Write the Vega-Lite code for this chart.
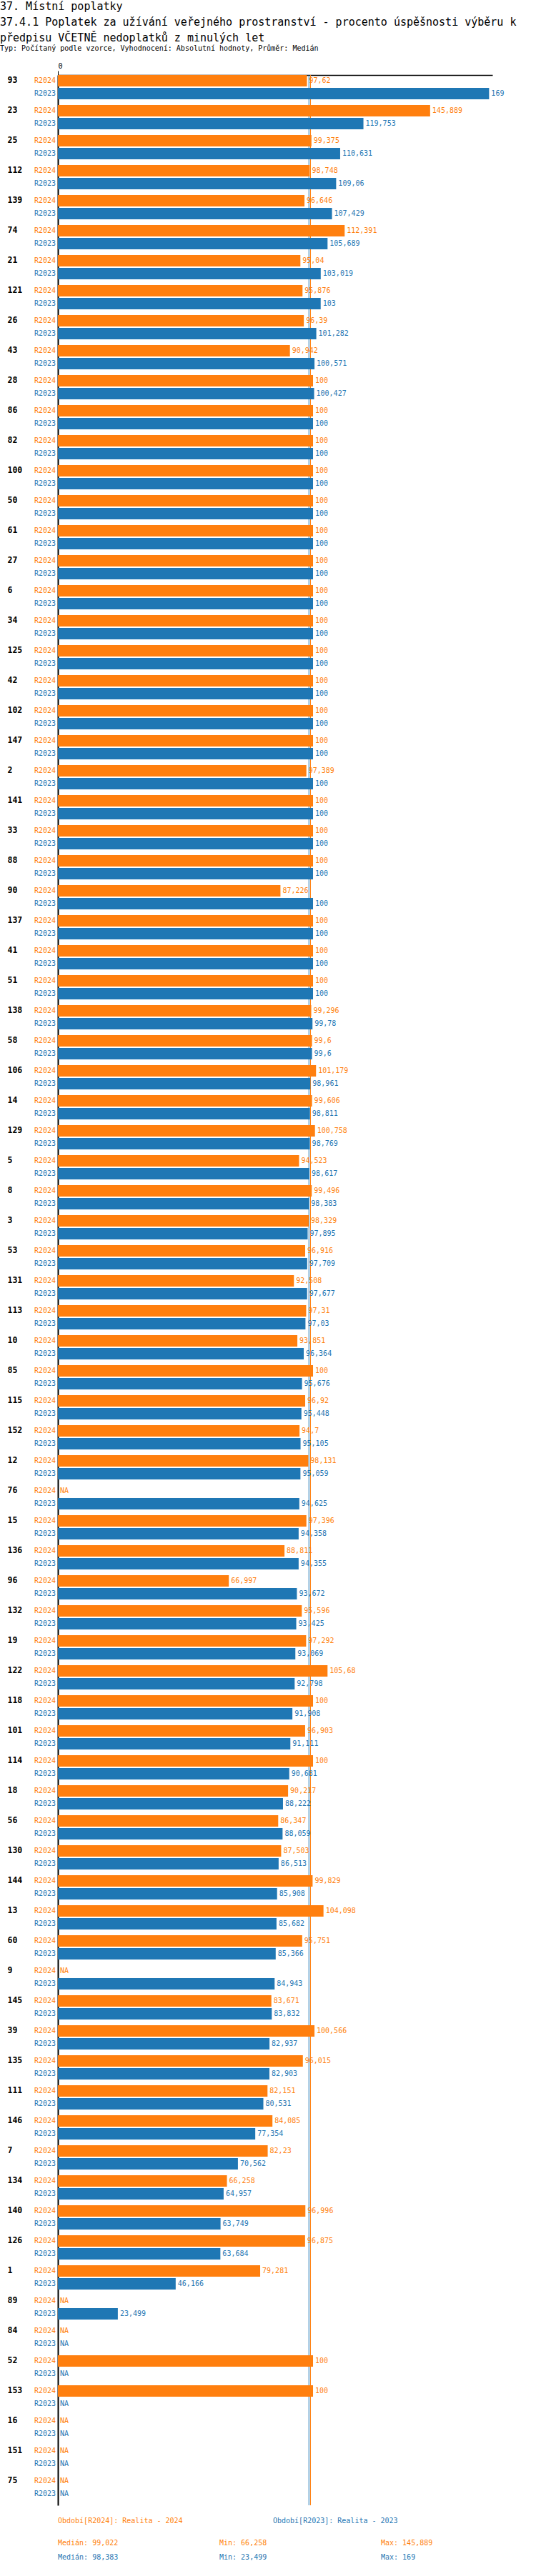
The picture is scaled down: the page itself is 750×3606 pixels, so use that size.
{
  "$schema": "https://vega.github.io/schema/vega-lite/v6.json",
  "background": "white",
  "padding": {"left": 0, "top": 2, "right": 5, "bottom": 5},
  "title": {
    "text": ["37. Místní poplatky", "37.4.1 Poplatek za užívání veřejného prostranství - procento úspěšnosti výběru k", "předpisu VČETNĚ nedoplatků z minulých let"],
    "subtitle": "Typ: Počítaný podle vzorce, Vyhodnocení: Absolutní hodnoty, Průměr: Medián",
    "anchor": "start",
    "frame": "bounds",
    "dx": -10,
    "font": "DejaVu Sans Mono",
    "fontSize": 15,
    "fontWeight": "normal",
    "lineHeight": 22,
    "color": "black",
    "subtitleFont": "DejaVu Sans Mono",
    "subtitleFontSize": 10,
    "subtitleColor": "black",
    "subtitlePadding": 2,
    "offset": 14
  },
  "datasets": {
    "rows": [
      {"id": "93", "period": "R2024", "value": 97.62}, {"id": "93", "period": "R2023", "value": 169},
      {"id": "23", "period": "R2024", "value": 145.889}, {"id": "23", "period": "R2023", "value": 119.753},
      {"id": "25", "period": "R2024", "value": 99.375}, {"id": "25", "period": "R2023", "value": 110.631},
      {"id": "112", "period": "R2024", "value": 98.748}, {"id": "112", "period": "R2023", "value": 109.06},
      {"id": "139", "period": "R2024", "value": 96.646}, {"id": "139", "period": "R2023", "value": 107.429},
      {"id": "74", "period": "R2024", "value": 112.391}, {"id": "74", "period": "R2023", "value": 105.689},
      {"id": "21", "period": "R2024", "value": 95.04}, {"id": "21", "period": "R2023", "value": 103.019},
      {"id": "121", "period": "R2024", "value": 95.876}, {"id": "121", "period": "R2023", "value": 103},
      {"id": "26", "period": "R2024", "value": 96.39}, {"id": "26", "period": "R2023", "value": 101.282},
      {"id": "43", "period": "R2024", "value": 90.942}, {"id": "43", "period": "R2023", "value": 100.571},
      {"id": "28", "period": "R2024", "value": 100}, {"id": "28", "period": "R2023", "value": 100.427},
      {"id": "86", "period": "R2024", "value": 100}, {"id": "86", "period": "R2023", "value": 100},
      {"id": "82", "period": "R2024", "value": 100}, {"id": "82", "period": "R2023", "value": 100},
      {"id": "100", "period": "R2024", "value": 100}, {"id": "100", "period": "R2023", "value": 100},
      {"id": "50", "period": "R2024", "value": 100}, {"id": "50", "period": "R2023", "value": 100},
      {"id": "61", "period": "R2024", "value": 100}, {"id": "61", "period": "R2023", "value": 100},
      {"id": "27", "period": "R2024", "value": 100}, {"id": "27", "period": "R2023", "value": 100},
      {"id": "6", "period": "R2024", "value": 100}, {"id": "6", "period": "R2023", "value": 100},
      {"id": "34", "period": "R2024", "value": 100}, {"id": "34", "period": "R2023", "value": 100},
      {"id": "125", "period": "R2024", "value": 100}, {"id": "125", "period": "R2023", "value": 100},
      {"id": "42", "period": "R2024", "value": 100}, {"id": "42", "period": "R2023", "value": 100},
      {"id": "102", "period": "R2024", "value": 100}, {"id": "102", "period": "R2023", "value": 100},
      {"id": "147", "period": "R2024", "value": 100}, {"id": "147", "period": "R2023", "value": 100},
      {"id": "2", "period": "R2024", "value": 97.389}, {"id": "2", "period": "R2023", "value": 100},
      {"id": "141", "period": "R2024", "value": 100}, {"id": "141", "period": "R2023", "value": 100},
      {"id": "33", "period": "R2024", "value": 100}, {"id": "33", "period": "R2023", "value": 100},
      {"id": "88", "period": "R2024", "value": 100}, {"id": "88", "period": "R2023", "value": 100},
      {"id": "90", "period": "R2024", "value": 87.226}, {"id": "90", "period": "R2023", "value": 100},
      {"id": "137", "period": "R2024", "value": 100}, {"id": "137", "period": "R2023", "value": 100},
      {"id": "41", "period": "R2024", "value": 100}, {"id": "41", "period": "R2023", "value": 100},
      {"id": "51", "period": "R2024", "value": 100}, {"id": "51", "period": "R2023", "value": 100},
      {"id": "138", "period": "R2024", "value": 99.296}, {"id": "138", "period": "R2023", "value": 99.78},
      {"id": "58", "period": "R2024", "value": 99.6}, {"id": "58", "period": "R2023", "value": 99.6},
      {"id": "106", "period": "R2024", "value": 101.179}, {"id": "106", "period": "R2023", "value": 98.961},
      {"id": "14", "period": "R2024", "value": 99.606}, {"id": "14", "period": "R2023", "value": 98.811},
      {"id": "129", "period": "R2024", "value": 100.758}, {"id": "129", "period": "R2023", "value": 98.769},
      {"id": "5", "period": "R2024", "value": 94.523}, {"id": "5", "period": "R2023", "value": 98.617},
      {"id": "8", "period": "R2024", "value": 99.496}, {"id": "8", "period": "R2023", "value": 98.383},
      {"id": "3", "period": "R2024", "value": 98.329}, {"id": "3", "period": "R2023", "value": 97.895},
      {"id": "53", "period": "R2024", "value": 96.916}, {"id": "53", "period": "R2023", "value": 97.709},
      {"id": "131", "period": "R2024", "value": 92.508}, {"id": "131", "period": "R2023", "value": 97.677},
      {"id": "113", "period": "R2024", "value": 97.31}, {"id": "113", "period": "R2023", "value": 97.03},
      {"id": "10", "period": "R2024", "value": 93.851}, {"id": "10", "period": "R2023", "value": 96.364},
      {"id": "85", "period": "R2024", "value": 100}, {"id": "85", "period": "R2023", "value": 95.676},
      {"id": "115", "period": "R2024", "value": 96.92}, {"id": "115", "period": "R2023", "value": 95.448},
      {"id": "152", "period": "R2024", "value": 94.7}, {"id": "152", "period": "R2023", "value": 95.105},
      {"id": "12", "period": "R2024", "value": 98.131}, {"id": "12", "period": "R2023", "value": 95.059},
      {"id": "76", "period": "R2024", "value": null}, {"id": "76", "period": "R2023", "value": 94.625},
      {"id": "15", "period": "R2024", "value": 97.396}, {"id": "15", "period": "R2023", "value": 94.358},
      {"id": "136", "period": "R2024", "value": 88.811}, {"id": "136", "period": "R2023", "value": 94.355},
      {"id": "96", "period": "R2024", "value": 66.997}, {"id": "96", "period": "R2023", "value": 93.672},
      {"id": "132", "period": "R2024", "value": 95.596}, {"id": "132", "period": "R2023", "value": 93.425},
      {"id": "19", "period": "R2024", "value": 97.292}, {"id": "19", "period": "R2023", "value": 93.069},
      {"id": "122", "period": "R2024", "value": 105.68}, {"id": "122", "period": "R2023", "value": 92.798},
      {"id": "118", "period": "R2024", "value": 100}, {"id": "118", "period": "R2023", "value": 91.908},
      {"id": "101", "period": "R2024", "value": 96.903}, {"id": "101", "period": "R2023", "value": 91.111},
      {"id": "114", "period": "R2024", "value": 100}, {"id": "114", "period": "R2023", "value": 90.681},
      {"id": "18", "period": "R2024", "value": 90.217}, {"id": "18", "period": "R2023", "value": 88.222},
      {"id": "56", "period": "R2024", "value": 86.347}, {"id": "56", "period": "R2023", "value": 88.059},
      {"id": "130", "period": "R2024", "value": 87.503}, {"id": "130", "period": "R2023", "value": 86.513},
      {"id": "144", "period": "R2024", "value": 99.829}, {"id": "144", "period": "R2023", "value": 85.908},
      {"id": "13", "period": "R2024", "value": 104.098}, {"id": "13", "period": "R2023", "value": 85.682},
      {"id": "60", "period": "R2024", "value": 95.751}, {"id": "60", "period": "R2023", "value": 85.366},
      {"id": "9", "period": "R2024", "value": null}, {"id": "9", "period": "R2023", "value": 84.943},
      {"id": "145", "period": "R2024", "value": 83.671}, {"id": "145", "period": "R2023", "value": 83.832},
      {"id": "39", "period": "R2024", "value": 100.566}, {"id": "39", "period": "R2023", "value": 82.937},
      {"id": "135", "period": "R2024", "value": 96.015}, {"id": "135", "period": "R2023", "value": 82.903},
      {"id": "111", "period": "R2024", "value": 82.151}, {"id": "111", "period": "R2023", "value": 80.531},
      {"id": "146", "period": "R2024", "value": 84.085}, {"id": "146", "period": "R2023", "value": 77.354},
      {"id": "7", "period": "R2024", "value": 82.23}, {"id": "7", "period": "R2023", "value": 70.562},
      {"id": "134", "period": "R2024", "value": 66.258}, {"id": "134", "period": "R2023", "value": 64.957},
      {"id": "140", "period": "R2024", "value": 96.996}, {"id": "140", "period": "R2023", "value": 63.749},
      {"id": "126", "period": "R2024", "value": 96.875}, {"id": "126", "period": "R2023", "value": 63.684},
      {"id": "1", "period": "R2024", "value": 79.281}, {"id": "1", "period": "R2023", "value": 46.166},
      {"id": "89", "period": "R2024", "value": null}, {"id": "89", "period": "R2023", "value": 23.499},
      {"id": "84", "period": "R2024", "value": null}, {"id": "84", "period": "R2023", "value": null},
      {"id": "52", "period": "R2024", "value": 100}, {"id": "52", "period": "R2023", "value": null},
      {"id": "153", "period": "R2024", "value": 100}, {"id": "153", "period": "R2023", "value": null},
      {"id": "16", "period": "R2024", "value": null}, {"id": "16", "period": "R2023", "value": null},
      {"id": "151", "period": "R2024", "value": null}, {"id": "151", "period": "R2023", "value": null},
      {"id": "75", "period": "R2024", "value": null}, {"id": "75", "period": "R2023", "value": null}
    ]
  },
  "spacing": 10,
  "vconcat": [
    {
      "width": 608,
      "height": 3402,
      "data": {"name": "rows"},
      "encoding": {
        "y": {
          "field": "id", "type": "nominal", "sort": null,
          "scale": {"paddingInner": 0.19, "paddingOuter": 0.095, "align": 0},
          "axis": {
            "title": null, "ticks": false, "tickSize": 0, "domain": true, "domainColor": "black", "domainWidth": 2,
            "labelAlign": "left", "labelPadding": 71, "labelOffset": -9, "labelBaseline": "middle",
            "labelFont": "DejaVu Sans Mono",
            "labelFontSize": 11.5, "labelFontWeight": "bold", "labelColor": "black"
          }
        },
        "yOffset": {
          "field": "period", "type": "nominal",
          "scale": {"domain": ["R2024", "R2023"], "paddingInner": 0.12, "paddingOuter": 0}
        },
        "color": {
          "field": "period", "type": "nominal",
          "scale": {"domain": ["R2024", "R2023"], "range": ["#ff7f0e", "#1f77b4"]},
          "legend": null
        }
      },
      "layer": [
        {
          "transform": [
            {"filter": "isValid(datum.value)"},
            {"aggregate": [{"op": "median", "field": "value", "as": "med"}], "groupby": ["period"]}
          ],
          "mark": {"type": "rule", "strokeWidth": 1},
          "encoding": {
            "y": null,
            "yOffset": null,
            "x": {"field": "med", "type": "quantitative"}
          }
        },
        {
          "mark": {"type": "text", "align": "right", "baseline": "middle", "dx": -3, "fontSize": 10,
                   "font": "DejaVu Sans Mono"},
          "encoding": {
            "x": {"datum": 0, "type": "quantitative"},
            "text": {"field": "period"}
          }
        },
        {
          "transform": [{"filter": "isValid(datum.value)"}],
          "mark": {"type": "bar"},
          "encoding": {
            "x": {
              "field": "value", "type": "quantitative",
              "scale": {"domain": [0, 170.3], "nice": false, "zero": true},
              "axis": {
                "orient": "top", "title": null, "values": [0], "grid": false,
                "domain": true, "domainColor": "black", "domainWidth": 1.5,
                "ticks": true, "tickColor": "black", "tickSize": 6, "tickWidth": 1,
                "labelPadding": 2, "labelFontSize": 10, "labelColor": "black",
                "labelFont": "DejaVu Sans Mono"
              }
            }
          }
        },
        {
          "transform": [
            {"filter": "isValid(datum.value)"},
            {"calculate": "replace(format(datum.value, '.3~f'), '.', ',')", "as": "lbl"}
          ],
          "mark": {"type": "text", "align": "left", "baseline": "middle", "dx": 3, "fontSize": 10,
                   "font": "DejaVu Sans Mono"},
          "encoding": {
            "x": {"field": "value", "type": "quantitative"},
            "text": {"field": "lbl"}
          }
        },
        {
          "transform": [{"filter": "!isValid(datum.value)"}],
          "mark": {"type": "text", "align": "left", "baseline": "middle", "dx": 3, "fontSize": 10, "text": "NA",
                   "font": "DejaVu Sans Mono"},
          "encoding": {
            "x": {"datum": 0, "type": "quantitative"}
          }
        }
      ]
    },
    {
      "width": 301,
      "height": 22,
      "data": {"values": [
        {"period": "R2024", "text": "Období[R2024]: Realita - 2024"},
        {"period": "R2023", "text": "Období[R2023]: Realita - 2023"}
      ]},
      "mark": {"type": "text", "align": "left", "baseline": "middle", "fontSize": 10,
               "font": "DejaVu Sans Mono"},
      "encoding": {
        "x": {"field": "period", "type": "ordinal", "scale": {"type": "point", "domain": ["R2024", "R2023"], "padding": 0}, "axis": null},
        "text": {"field": "text"},
        "color": {"field": "period", "type": "nominal", "legend": null}
      }
    },
    {
      "width": 452,
      "height": 40,
      "data": {"name": "rows"},
      "transform": [
        {"filter": "isValid(datum.value)"},
        {"aggregate": [
          {"op": "median", "field": "value", "as": "Medián"},
          {"op": "min", "field": "value", "as": "Min"},
          {"op": "max", "field": "value", "as": "Max"}
        ], "groupby": ["period"]},
        {"fold": ["Medián", "Min", "Max"], "as": ["stat", "v"]},
        {"calculate": "datum.stat + ': ' + replace(format(datum.v, '.3~f'), '.', ',')", "as": "lbl"}
      ],
      "mark": {"type": "text", "align": "left", "baseline": "middle", "fontSize": 10,
               "font": "DejaVu Sans Mono"},
      "encoding": {
        "x": {"field": "stat", "type": "ordinal", "scale": {"type": "point", "domain": ["Medián", "Min", "Max"], "padding": 0}, "axis": null},
        "y": {"field": "period", "type": "ordinal", "scale": {"type": "point", "domain": ["R2024", "R2023"], "padding": 0.5}, "axis": null},
        "text": {"field": "lbl"},
        "color": {"field": "period", "type": "nominal", "legend": null}
      }
    }
  ],
  "config": {
    "view": {"stroke": null}
  }
}
